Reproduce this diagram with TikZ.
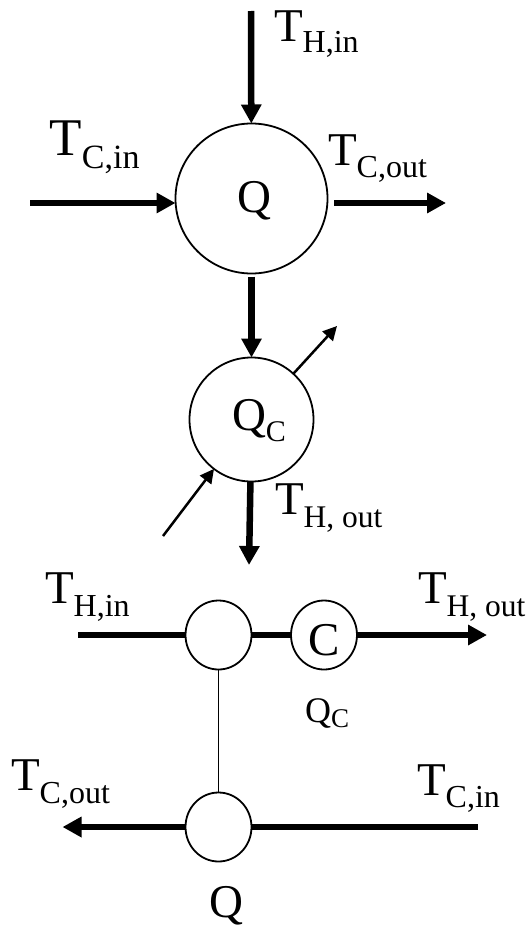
\documentclass[tikz,border=0pt]{standalone}
\usepackage{fontspec}
\setmainfont{Liberation Serif}
\usetikzlibrary{arrows.meta, shapes.geometric}
\newcommand{\low}[3][32]{\raisebox{-#2pt}{\fontsize{#1}{#1}\selectfont #3}}

\begin{document}
\begin{tikzpicture}[
    x=1pt, y=-1pt,
    vessel/.style 2 args={draw, ellipse, line width=1.8pt, inner sep=0pt, outer sep=0pt, minimum width=#1pt, minimum height=#2pt},
    lab/.style={anchor=base west, inner sep=0pt, outer sep=0pt, font=\fontsize{47}{47}\selectfont},
    biglab/.style={lab, font=\fontsize{53}{53}\selectfont},
    stream/.style={line width=6.5pt},
    arrow/.style={stream, -{Triangle[length=19pt, width=19.5pt]}},
    thinarrow/.style={line width=2.5pt, -{Triangle[length=14pt, width=14pt]}}
]
\useasboundingbox (0, 0) rectangle (529, 926);

% upper picture
\node[vessel={152}{150}] (hot) at (251.5, 198.5) {};
\node[vessel={124}{124}] (cold) at (251.5, 419.5) {};
\coordinate (hotin) at (251, 11);
\coordinate (coolin) at (30, 203);
\coordinate (coolout) at (446, 203);
\coordinate (hotoutstart) at (334, 203);
\coordinate (hotout) at (249, 565);
\coordinate (drainin) at (163, 536);
\coordinate (drainout) at (337, 326);

\draw[arrow] (hotin) -- (hot);
\draw[arrow] (coolin) -- (coolin -| hot.west);
\draw[arrow] (hotoutstart) -- (coolout);
\draw[arrow, shorten <=3pt] (hot) -- (cold);
\draw[arrow] (cold) -- (hotout);
\draw[thinarrow] (drainin) -- (cold);
\draw[thinarrow] (cold) -- (drainout);

\node[lab] (qhot) at (237.5, 212) {Q};
\node[lab] (qcold) at (232, 430) {Q\low[30]{11}{C}};
\node[lab] (thin) at (274, 41) {T\low{11}{H,in}};
\node[biglab] (tcin) at (49.5, 155) {T\low[34]{13}{C,in}};
\node[lab] (tcout) at (328, 165) {T\low{12}{C,out}};
\node[lab] (thout) at (275, 514) {T\low[31.5]{13}{H, out}};

% lower picture
\node[vessel={66}{69}] (hx) at (218.5, 635) {};
\node[vessel={66}{69}] (cooler) at (324, 635) {};
\node[vessel={66}{69}] (rec) at (218.5, 827) {};
\coordinate (hin) at (78, 635);
\coordinate (hout) at (487, 635);
\coordinate (cin) at (478, 827);
\coordinate (cout) at (62.5, 827);

\draw[stream] (hin) -- (hx);
\draw[stream] (hx) -- (cooler);
\draw[arrow] (cooler) -- (hout);
\draw[stream] (cin) -- (rec);
\draw[arrow] (rec) -- (cout);
\draw[line width=1.8pt] (hx) -- (rec);

\node[lab] (tc) at (308.5, 655) {C};
\node[lab, font=\fontsize{36}{36}\selectfont] (qc) at (305, 722) {Q\low[27]{5}{C}};
\node[lab] (q) at (209.5, 917) {Q};
\node[lab] (t1) at (45, 603) {T\low{13}{H,in}};
\node[lab] (t2) at (418, 603) {T\low[31.5]{13}{H, out}};
\node[lab] (t3) at (11, 790) {T\low{13}{C,out}};
\node[lab] (t4) at (417, 795) {T\low{12}{C,in}};
\end{tikzpicture}
\end{document}
